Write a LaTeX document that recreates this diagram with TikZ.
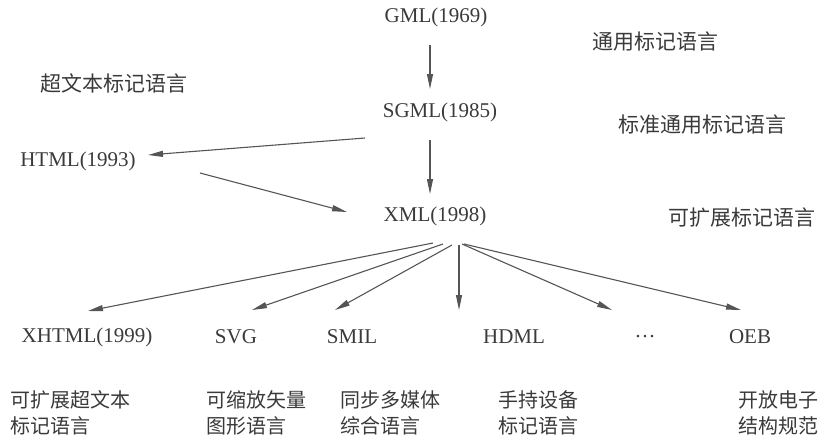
\documentclass[tikz,border=0pt]{standalone}
\usepackage{fontspec}
\setmainfont{Liberation Serif}
\newfontfamily\cjk{Noto Sans CJK SC}
\usetikzlibrary{arrows.meta}
\definecolor{ink}{HTML}{3A3A3A}
\definecolor{linec}{HTML}{555555}
\begin{document}
\begin{tikzpicture}[x=1pt,y=-1pt,
  lat/.style={text=ink,font=\fontsize{21}{24}\selectfont,inner sep=0pt,anchor=center},
  zh/.style={text=ink,font=\cjk\fontsize{21}{27}\selectfont,inner sep=0pt},
  zhl/.style={text=ink,font=\cjk\fontsize{20}{26}\selectfont,inner sep=0pt,anchor=west,align=left},
  arr/.style={draw=linec,line width=1.1pt,-{Triangle[length=15pt,width=6pt]}}]
\useasboundingbox (0,0) rectangle (832,439);
% main nodes
\node[lat] (gml) at (436,17) {GML(1969)};
\node[lat] (sgml) at (440,112) {SGML(1985)};
\node[lat] (xml) at (435,216) {XML(1998)};
\node[lat] (html) at (78,161) {HTML(1993)};
\node[lat] (xhtml) at (87,337) {XHTML(1999)};
\node[lat] (svg) at (236,337) {SVG};
\node[lat] (smil) at (352,337) {SMIL};
\node[lat] (hdml) at (514,337) {HDML};
\node[lat] (dots) at (645,337) {\dots};
\node[lat] (oeb) at (750,337) {OEB};
% descriptions
\node[zh] (dgml) at (655,42) {通用标记语言};
\node[zh] (dsgml) at (702,125) {标准通用标记语言};
\node[zh] (dxml) at (742,218) {可扩展标记语言};
\node[zh] (dhtml) at (114,83) {超文本标记语言};
\node[zhl] (dxhtml) at (10,413) {可扩展超文本\\标记语言};
\node[zhl] (dsvg) at (206,413) {可缩放矢量\\图形语言};
\node[zhl] (dsmil) at (340,413) {同步多媒体\\综合语言};
\node[zhl] (dhdml) at (498,413) {手持设备\\标记语言};
\node[zhl] (doeb) at (738,413) {开放电子\\结构规范};
% connector endpoints
\coordinate (g1) at (430,45);  \coordinate (g2) at (430,89);
\coordinate (s1) at (430,140); \coordinate (s2) at (430,194);
\coordinate (s3) at (365,138); \coordinate (h1) at (148,155);
\coordinate (h2) at (200,173); \coordinate (x0) at (347,212);
\coordinate (o1) at (433,243); \coordinate (e1) at (88,311);
\coordinate (o2) at (443,244); \coordinate (e2) at (252,310);
\coordinate (o3) at (452,245); \coordinate (e3) at (335,310);
\coordinate (o4) at (459,245); \coordinate (e4) at (459,310);
\coordinate (o5) at (462,244); \coordinate (e5) at (612,310);
\coordinate (o6) at (464,244); \coordinate (e6) at (741,310);
\draw[arr] (g1) -- (g2);
\draw[arr] (s1) -- (s2);
\draw[arr] (s3) -- (h1);
\draw[arr] (h2) -- (x0);
\draw[arr] (o1) -- (e1);
\draw[arr] (o2) -- (e2);
\draw[arr] (o3) -- (e3);
\draw[arr] (o4) -- (e4);
\draw[arr] (o5) -- (e5);
\draw[arr] (o6) -- (e6);
\end{tikzpicture}
\end{document}
